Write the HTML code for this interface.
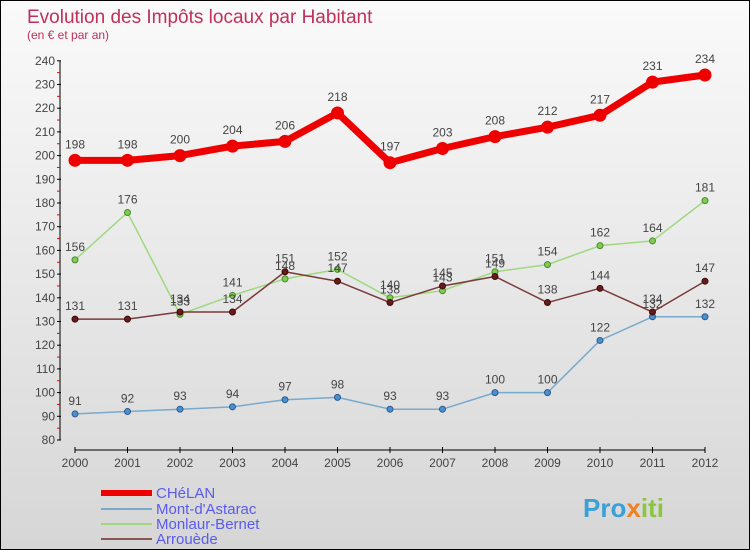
<!DOCTYPE html>
<html><head><meta charset="utf-8"><style>
body{margin:0;}
#c{width:750px;height:550px;position:relative;box-sizing:border-box;border:1px solid #000;background:linear-gradient(#fafafa,#d6d6d6);font-family:"Liberation Sans",sans-serif;overflow:hidden}
</style></head><body>
<div id="c">
<svg id="s" width="748" height="548" xmlns="http://www.w3.org/2000/svg">
<text x="26" y="22" font-size="19" fill="#c0305a">Evolution des Impôts locaux par Habitant</text>
<text x="26" y="38" font-size="12" fill="#c0305a">(en € et par an)</text>
<g id="axes"></g><g id="series"></g>
<g>
<rect x="100" y="489" width="51" height="6" fill="#e00"/>
<text x="155" y="497" font-size="15" fill="#5a5aee">CHéLAN</text>
<rect x="100" y="507" width="51" height="2" fill="#78aacc"/>
<text x="155" y="513" font-size="15" fill="#5a5aee">Mont-d'Astarac</text>
<rect x="100" y="522" width="51" height="2" fill="#9fd87f"/>
<text x="155" y="528" font-size="15" fill="#5a5aee">Monlaur-Bernet</text>
<rect x="100" y="537" width="51" height="2" fill="#8a5555"/>
<text x="155" y="543" font-size="15" fill="#5a5aee">Arrouède</text>
</g>
<text x="582" y="516" font-size="26" font-weight="bold" fill="#3aa0d8">Pro<tspan fill="#f08020">x</tspan><tspan fill="#8cc63f">iti</tspan></text>
</svg>
</div>
<script>
const years=[2000,2001,2002,2003,2004,2005,2006,2007,2008,2009,2010,2011,2012];
const yTicks=[80,90,100,110,120,130,140,150,160,170,180,190,200,210,220,230,240];
const chelan=[198,198,200,204,206,218,197,203,208,212,217,231,234];
const mont=[91,92,93,94,97,98,93,93,100,100,122,132,132];
const monlaur=[156,176,133,141,148,152,140,143,151,154,162,164,181];
const arrouede=[131,131,134,134,151,147,138,145,149,138,144,134,147];
const NS="http://www.w3.org/2000/svg";
function xs(i){return 74+i*52.5;}
function ys(v){return 439-(v-80)*2.37;}
function mk(t,a,p){const e=document.createElementNS(NS,t);for(const k in a)e.setAttribute(k,a[k]);p.appendChild(e);return e;}
const ax=document.getElementById('axes');
let l=mk('line',{x1:59,y1:ys(240),x2:59,y2:ys(80),stroke:'#000'},ax);


l=mk('line',{x1:xs(0),y1:449,x2:xs(12),y2:449,stroke:'#000'},ax);


yTicks.forEach((v,i)=>{
 mk('line',{x1:56,y1:ys(v),x2:60,y2:ys(v),stroke:'#000'},ax);
 if(i<yTicks.length-1)mk('line',{x1:56,y1:ys(v+5),x2:59,y2:ys(v+5),stroke:'#e00'},ax);
 const t=mk('text',{x:54,y:ys(v)+4,'font-size':12,fill:'#444','text-anchor':'end'},ax);
 t.textContent=v;
 
 
});
years.forEach((y,i)=>{
 mk('line',{x1:xs(i),y1:446,x2:xs(i),y2:452,stroke:'#000'},ax);
 const t=mk('text',{x:xs(i),y:466,'font-size':12,fill:'#444','text-anchor':'middle'},ax);
 t.textContent=y;
 
 
});
const sg=document.getElementById('series');
function draw(data,name,col,w,r,dot,dotStroke){
 const g=mk('g',{},sg);
 
 
 const p=mk('polyline',{points:data.map((v,i)=>xs(i)+','+ys(v)).join(' '),fill:'none',stroke:col,'stroke-width':w,'stroke-linejoin':'round'},g);
 
 
 data.forEach((v,i)=>{
  const c=mk('circle',{cx:xs(i),cy:ys(v),r:r,fill:dot,stroke:dotStroke,'stroke-width':1},g);
  
  
  const t=mk('text',{x:xs(i),y:ys(v)-(r+6),'font-size':12,fill:'#444','text-anchor':'middle'},g);
  t.textContent=v;
  
  
 });
}
draw(mont,'mont-d-astarac','#78aacc',1.5,3,'#4a90d0','#2a5a8a');
draw(monlaur,'monlaur-bernet','#9fd87f',1.5,3,'#80cc50','#4a8a2a');
draw(arrouede,'arrouede','#7a3a3a',1.5,3,'#6a1a1a','#3a0a0a');
draw(chelan,'chelan','#e00',7,6,'#e00','#e00');
</script>
</body></html>
